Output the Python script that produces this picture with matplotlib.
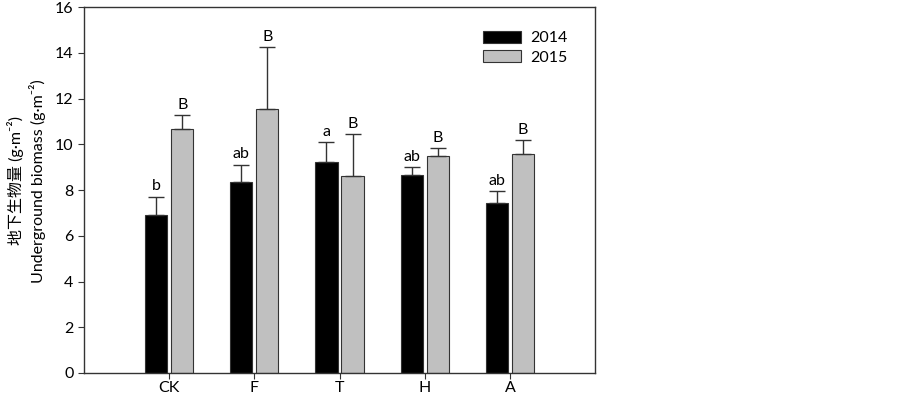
import numpy as np
import matplotlib
matplotlib.use("Agg")
import matplotlib.pyplot as plt

plt.rcParams['font.family'] = ['Lato', 'Noto Sans CJK SC', 'DejaVu Sans']

groups = ['CK', 'F', 'T', 'H', 'A']
mean_2014 = [6.9, 8.35, 9.22, 8.66, 7.43]
err_2014 = [0.8, 0.75, 0.88, 0.34, 0.53]
mean_2015 = [10.67, 11.54, 8.6, 9.49, 9.57]
err_2015 = [0.61, 2.71, 1.85, 0.35, 0.62]
letters_2014 = ['b', 'ab', 'a', 'ab', 'ab']
letters_2015 = ['B', 'B', 'B', 'B', 'B']

fig = plt.figure(figsize=(9.03, 3.97), dpi=100)
ax = fig.add_axes([0.093, 0.0605, 0.566, 0.9215])

x = np.arange(len(groups))
w = 0.26
off = 0.153
edge = '#333333'
fs = 11.5

ax.bar(x - off, mean_2014, w, color='black', edgecolor=edge, linewidth=0.8, label='2014')
ax.bar(x + off, mean_2015, w, color='#c0c0c0', edgecolor=edge, linewidth=0.8, label='2015')
ax.errorbar(x - off, mean_2014, yerr=[np.zeros(5), err_2014], fmt='none',
            ecolor=edge, elinewidth=1, capsize=6, capthick=1)
ax.errorbar(x + off, mean_2015, yerr=[np.zeros(5), err_2015], fmt='none',
            ecolor=edge, elinewidth=1, capsize=6, capthick=1)

for i in range(len(groups)):
    ax.text(x[i] - off, mean_2014[i] + err_2014[i] + 0.15, letters_2014[i],
            ha='center', va='bottom', fontsize=fs)
    ax.text(x[i] + off, mean_2015[i] + err_2015[i] + 0.15, letters_2015[i],
            ha='center', va='bottom', fontsize=fs)

ax.set_xlim(-1, 5)
ax.set_ylim(0, 16)
ax.set_xticks(x)
ax.set_xticklabels(groups, fontsize=fs)
ax.set_yticks(np.arange(0, 17, 2))
ax.tick_params(axis='both', direction='out', length=4, color=edge, labelsize=fs)
ax.tick_params(axis='x', pad=1.5)
for s in ax.spines.values():
    s.set_color(edge)
    s.set_linewidth(1)

ax.legend(loc='upper right', bbox_to_anchor=(0.975, 0.975), frameon=False,
          fontsize=fs, handlelength=2.4, handleheight=0.8, labelspacing=0.3,
          handletextpad=0.6)

fig.text(0.017, 0.545, '地下生物量 (g·m⁻²)', rotation=90, ha='center', va='center',
         fontsize=fs)
fig.text(0.041, 0.545, 'Underground biomass (g·m⁻²)', rotation=90, ha='center',
         va='center', fontsize=fs)

fig.savefig('out.png', dpi=100)
